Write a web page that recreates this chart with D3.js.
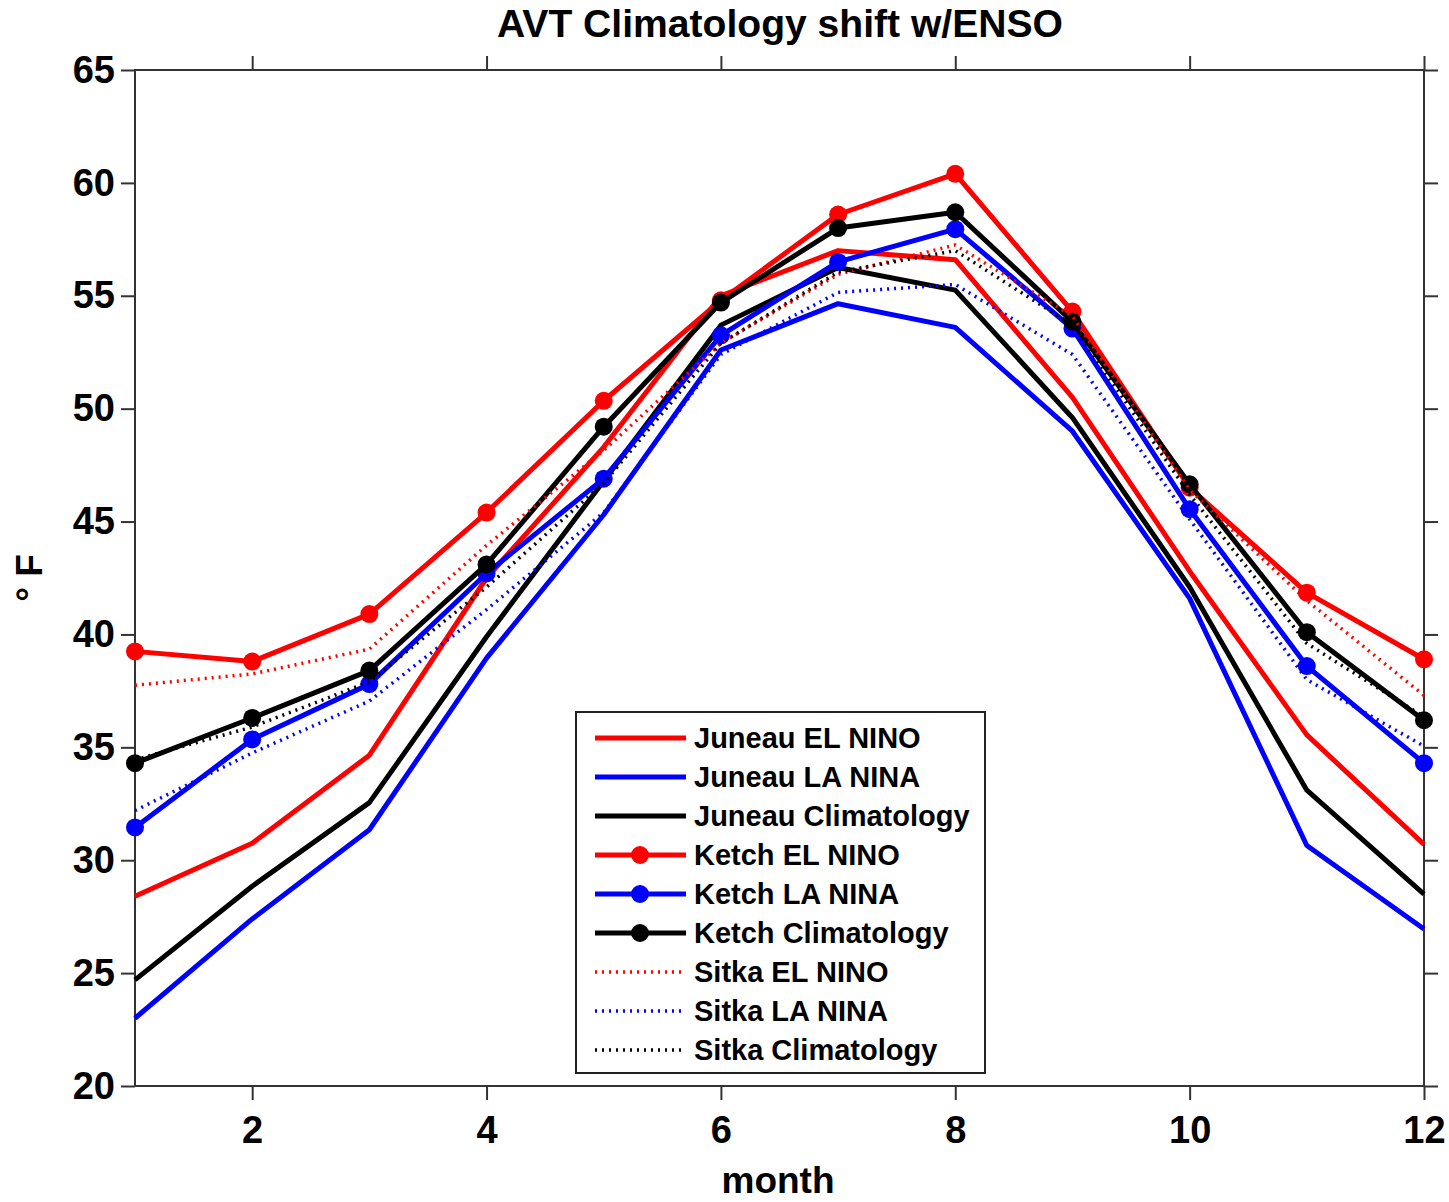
<!DOCTYPE html>
<html>
<head>
<meta charset="utf-8">
<script src="https://cdn.jsdelivr.net/npm/d3@7"></script>
<style>
  html, body { margin: 0; padding: 0; background: #fff; }
  svg { display: block; font-family: "Liberation Sans", Arial, Helvetica, sans-serif; }
</style>
</head>
<body>
<svg id="chart" width="1449" height="1202"></svg>
<script>
// ---- data ----
const months = [1, 2, 3, 4, 5, 6, 7, 8, 9, 10, 11, 12];
const xTickValues = [2, 4, 6, 8, 10, 12];
const yTickValues = [20, 25, 30, 35, 40, 45, 50, 55, 60, 65];

const juneauElNino = [28.4, 30.75, 34.65, 42.5, 48.3, 55.0, 57.0, 56.6, 50.5, 42.8, 35.55, 30.7];
const juneauLaNina = [23.0, 27.4, 31.35, 38.95, 45.3, 52.6, 54.65, 53.6, 49.0, 41.6, 30.65, 26.95];
const juneauClim   = [24.7, 28.85, 32.55, 39.9, 46.8, 53.7, 56.25, 55.25, 49.6, 42.1, 33.1, 28.5];
const ketchElNino  = [39.25, 38.8, 40.9, 45.4, 50.35, 54.8, 58.6, 60.4, 54.3, 46.5, 41.85, 38.9];
const ketchLaNina  = [31.45, 35.35, 37.8, 42.7, 46.9, 53.25, 56.5, 57.95, 53.55, 45.55, 38.6, 34.3];
const ketchClim    = [34.3, 36.3, 38.4, 43.1, 49.2, 54.7, 58.0, 58.7, 53.85, 46.65, 40.1, 36.2];
const sitkaElNino  = [37.75, 38.25, 39.35, 43.95, 48.15, 52.9, 55.95, 57.25, 54.1, 46.4, 41.5, 37.3];
const sitkaLaNina  = [32.2, 34.75, 37.05, 41.1, 45.4, 52.4, 55.15, 55.5, 52.4, 45.1, 38.0, 35.05];
const sitkaClim    = [34.45, 35.9, 37.9, 42.1, 46.7, 52.9, 56.05, 57.0, 53.7, 46.2, 39.6, 36.35];

const seriesNames = ["Juneau EL NINO", "Juneau LA NINA", "Juneau Climatology",
                     "Ketch EL NINO", "Ketch LA NINA", "Ketch Climatology",
                     "Sitka EL NINO", "Sitka LA NINA", "Sitka Climatology"];
const seriesValues = [juneauElNino, juneauLaNina, juneauClim,
                      ketchElNino, ketchLaNina, ketchClim,
                      sitkaElNino, sitkaLaNina, sitkaClim];
const seriesColors = ["#ff0000", "#0000ff", "#000000",
                      "#ff0000", "#0000ff", "#000000",
                      "#ff0000", "#0000ff", "#000000"];
const seriesKinds = ["solid", "solid", "solid", "marker", "marker", "marker", "dotted", "dotted", "dotted"];

const titleText = "AVT Climatology shift w/ENSO";
const xLabel = "month";
const yLabel = "\u00B0 F";

// ---- layout ----
const svg = d3.select("#chart");
const plotLeft = 135, plotRight = 1424, plotTop = 70, plotBottom = 1086;

const x = d3.scaleLinear().domain([1, 12]).range([plotLeft, plotRight]);
const y = d3.scaleLinear().domain([20, 65]).range([plotBottom, plotTop]);

const fontBig = 37;

// title
svg.append("text")
  .attr("x", 780).attr("y", 37)
  .attr("text-anchor", "middle")
  .attr("font-size", 38).attr("font-weight", "bold")
  .attr("textLength", 566).attr("lengthAdjust", "spacingAndGlyphs")
  .text(titleText);

// frame
svg.append("rect")
  .attr("x", plotLeft).attr("y", plotTop)
  .attr("width", plotRight - plotLeft).attr("height", plotBottom - plotTop)
  .attr("fill", "none").attr("stroke", "#333").attr("stroke-width", 2);

const tickLen = 14;
const yAxisL = d3.axisLeft(y).tickValues(yTickValues).tickSize(tickLen).tickPadding(6).tickFormat(d3.format("d"));
const yAxisR = d3.axisRight(y).tickValues(yTickValues).tickSize(tickLen).tickFormat("");
const xAxisB = d3.axisBottom(x).tickValues(xTickValues).tickSize(tickLen).tickPadding(16).tickFormat(d3.format("d"));
const xAxisT = d3.axisTop(x).tickValues(xTickValues).tickSize(tickLen).tickFormat("");

function styleAxis(g) {
  g.select(".domain").remove();
  g.selectAll(".tick line").attr("stroke", "#333").attr("stroke-width", 2);
  g.selectAll(".tick text").attr("font-size", 38).attr("font-weight", "bold")
    .attr("font-family", "'Liberation Sans', Arial, sans-serif").attr("fill", "#000");
}
svg.append("g").attr("transform", `translate(${plotLeft},0)`).call(yAxisL).call(styleAxis);
svg.append("g").attr("transform", `translate(${plotRight},0)`).call(yAxisR).call(styleAxis);
svg.append("g").attr("transform", `translate(0,${plotBottom})`).call(xAxisB).call(styleAxis);
svg.append("g").attr("transform", `translate(0,${plotTop})`).call(xAxisT).call(styleAxis);

// axis labels
svg.append("text")
  .attr("x", 778).attr("y", 1193)
  .attr("text-anchor", "middle")
  .attr("font-size", fontBig).attr("font-weight", "bold")
  .text(xLabel);
svg.append("text")
  .attr("transform", "translate(42,578) rotate(-90)")
  .attr("text-anchor", "middle")
  .attr("font-size", fontBig).attr("font-weight", "bold")
  .text(yLabel);

// series
const line = d3.line().x((d, i) => x(months[i])).y(d => y(d));
const plot = svg.append("g");

function styleLine(sel, kind, color) {
  sel.attr("fill", "none").attr("stroke", color).attr("stroke-linejoin", "round");
  if (kind === "dotted") {
    sel.attr("stroke-width", 3.5).attr("stroke-dasharray", "2,5");
  } else {
    sel.attr("stroke-width", 5);
  }
}

seriesValues.forEach((vals, si) => {
  const kind = seriesKinds[si], color = seriesColors[si];
  plot.append("path").datum(vals).attr("d", line).call(styleLine, kind, color);
  if (kind === "marker") {
    plot.selectAll(null).data(vals).enter().append("circle")
      .attr("cx", (d, i) => x(months[i])).attr("cy", d => y(d))
      .attr("r", 9).attr("fill", color);
  }
});

// legend
const lg = svg.append("g");
lg.append("rect").attr("x", 576).attr("y", 712).attr("width", 409).attr("height", 361)
  .attr("fill", "#fff").attr("stroke", "#222").attr("stroke-width", 2);
const rowY = d3.scaleLinear().domain([0, 8]).range([738, 1050]);
seriesNames.forEach((name, si) => {
  const yy = rowY(si);
  const kind = seriesKinds[si], color = seriesColors[si];
  lg.append("line").attr("x1", 595).attr("x2", 686).attr("y1", yy).attr("y2", yy)
    .call(styleLine, kind, color);
  if (kind === "marker") {
    lg.append("circle").attr("cx", 640).attr("cy", yy).attr("r", 9).attr("fill", color);
  }
  lg.append("text").attr("x", 694).attr("y", yy + 10)
    .attr("font-size", 29).attr("font-weight", "bold").text(name);
});
</script>
</body>
</html>
